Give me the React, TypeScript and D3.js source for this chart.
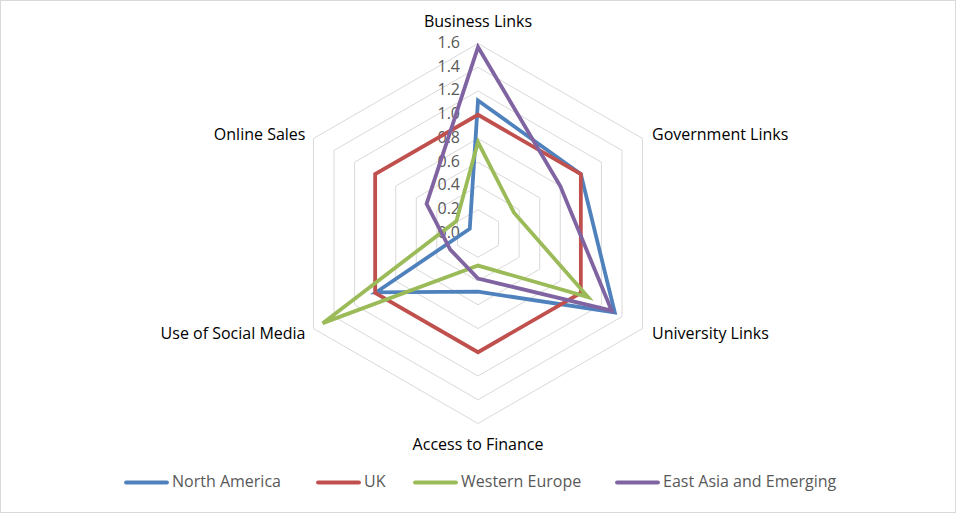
import * as d3 from "d3";

const categories = [
  "Business Links",
  "Government Links",
  "University Links",
  "Access to Finance",
  "Use of Social Media",
  "Online Sales",
];

const seriesNames = ["North America", "UK", "Western Europe", "East Asia and Emerging"];
const northAmerica = [1.12, 1.0, 1.33, 0.49, 0.99, 0.08];
const uk = [1.0, 1.0, 1.0, 1.0, 1.0, 1.0];
const westernEurope = [0.77, 0.35, 1.07, 0.27, 1.51, 0.21];
const eastAsia = [1.57, 0.8, 1.3, 0.38, 0.27, 0.5];
const seriesValues = [northAmerica, uk, westernEurope, eastAsia];
const colors = ["#4F81BD", "#C0504D", "#9BBB59", "#8064A2"];

const ticks = [0, 0.2, 0.4, 0.6, 0.8, 1.0, 1.2, 1.4, 1.6];

export default function App() {
  const width = 957;
  const height = 514;
  const cx = 478;
  const cy = 233.5;
  const radius = 190;
  const font = "'Open Sans', 'DejaVu Sans', sans-serif";

  const rScale = d3.scaleLinear().domain([0, 1.6]).range([0, radius]);
  const step = (2 * Math.PI) / categories.length;

  const line = d3
    .lineRadial<number>()
    .angle((_, i) => i * step)
    .radius((d) => rScale(d))
    .curve(d3.curveLinearClosed);

  const point = (i: number, v: number) => {
    const a = i * step;
    return [Math.sin(a) * rScale(v), -Math.cos(a) * rScale(v)];
  };

  // label placement per axis: [dx, dy, anchor]
  const labelPos: [number, number, string][] = [
    [0, -17, "middle"],
    [9.5, 1, "start"],
    [9.5, 10, "start"],
    [0, 26, "middle"],
    [-8, 10, "end"],
    [-8, 1, "end"],
  ];

  const legendX = [125, 317, 414, 616];

  return (
    <svg
      width={width}
      height={height}
      style={{ position: "absolute", left: 0, top: 0, background: "white" }}
    >
      <rect x={0.5} y={0.5} width={width - 2} height={height - 2} fill="white" stroke="#D9D9D9" />
      <g transform={`translate(${cx},${cy})`}>
        {ticks.slice(1).map((t) => (
          <path
            key={t}
            d={line(categories.map(() => t)) ?? ""}
            fill="none"
            stroke="#D9D9D9"
            strokeWidth={1}
          />
        ))}
        {ticks.map((t) => (
          <text
            key={t}
            x={-18}
            y={-rScale(t)}
            textAnchor="end"
            dominantBaseline="middle"
            fontFamily={font}
            fontSize={16}
            fill="#595959"
          >
            {t.toFixed(1)}
          </text>
        ))}
        {seriesValues.map((vals, s) => (
          <path
            key={seriesNames[s]}
            d={line(vals) ?? ""}
            fill="none"
            stroke={colors[s]}
            strokeWidth={3.8}
            strokeLinejoin="miter"
          />
        ))}
        {categories.map((c, i) => {
          const [x, y] = point(i, 1.6);
          const [dx, dy, anchor] = labelPos[i];
          return (
            <text
              key={c}
              x={x + dx}
              y={y + dy}
              textAnchor={anchor}
              fontFamily={font}
              fontSize={16}
              fill="#000000"
            >
              {c}
            </text>
          );
        })}
      </g>
      <g>
        {seriesNames.map((n, s) => (
          <g key={n} transform={`translate(${legendX[s]},482.5)`}>
            <line x1={1} x2={42} y1={0} y2={0} stroke={colors[s]} strokeWidth={3.8} strokeLinecap="round" />
            <text
              x={47}
              y={0}
              dominantBaseline="middle"
              fontFamily={font}
              fontSize={16}
              fill="#595959"
            >
              {n}
            </text>
          </g>
        ))}
      </g>
    </svg>
  );
}
